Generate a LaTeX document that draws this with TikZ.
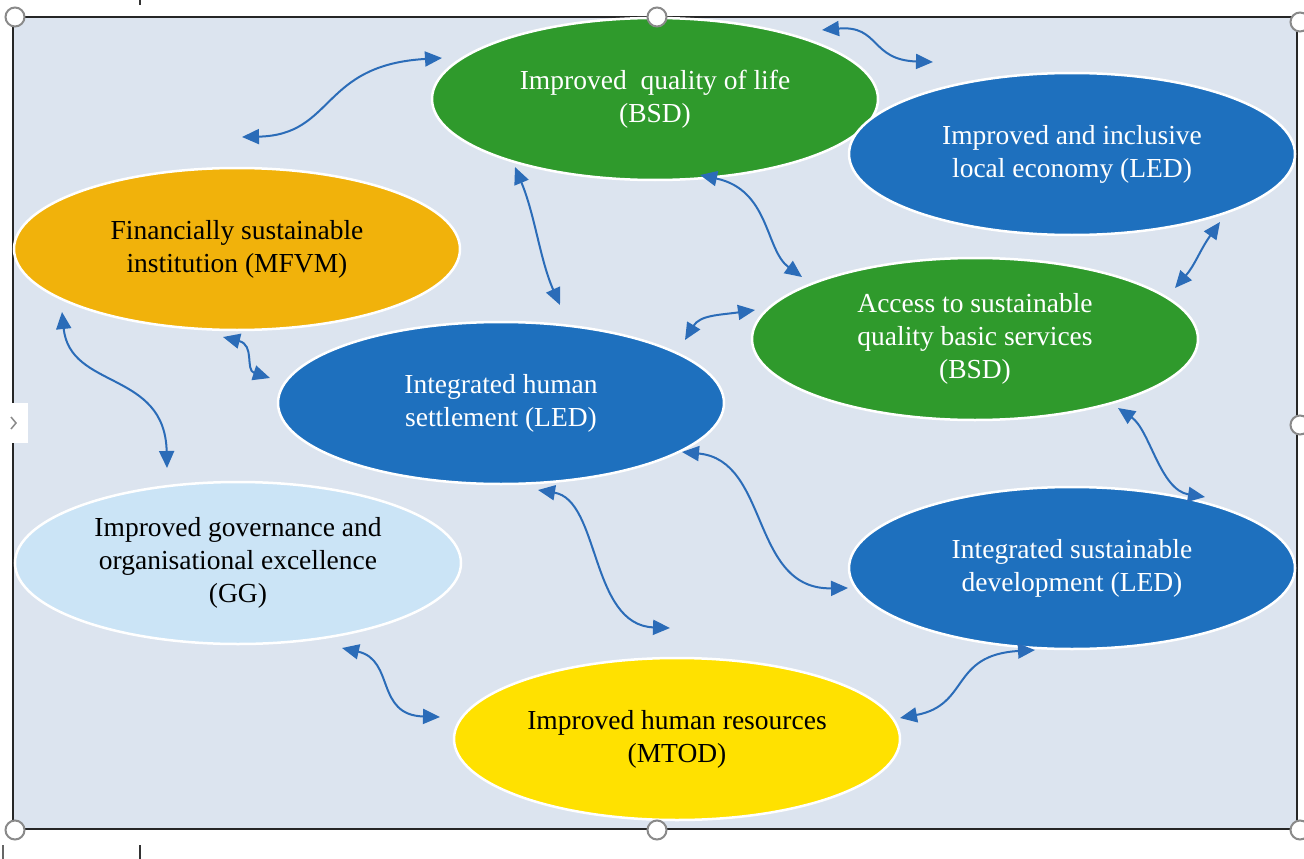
\documentclass[tikz,border=0pt]{standalone}
\usepackage{fontspec}
\setmainfont{Liberation Serif}
\usetikzlibrary{arrows.meta,shapes.geometric}
\definecolor{bgc}{HTML}{DCE4EF}
\definecolor{grn}{HTML}{2F9A2C}
\definecolor{blu}{HTML}{1E70BE}
\definecolor{org}{HTML}{F1B20B}
\definecolor{ylw}{HTML}{FFE100}
\definecolor{lbl}{HTML}{CBE4F6}
\definecolor{arr}{HTML}{2B6CB8}
\definecolor{hdl}{HTML}{8A8A8A}
\begin{document}
\begin{tikzpicture}[x=1pt,y=-1pt,
 goal/.style={ellipse, draw=white, line width=2.5pt, minimum width=446pt, minimum height=162pt, inner sep=0pt, align=center, font=\fontsize{27.5}{33}\selectfont},
 link/.style={draw=arr, line width=2pt, {Triangle[length=17pt,width=15pt]}-{Triangle[length=17pt,width=15pt]}},
 handle/.style={circle, draw=hdl, fill=white, line width=2pt, minimum size=19pt, inner sep=0pt}]
\useasboundingbox (0,0) rectangle (1304,859);
\fill[white] (0,0) rectangle (1304,859);
\fill[bgc] (13,17) rectangle (1297,829);
\draw[line width=2pt, black!85] (13,17) rectangle (1297,829);
% small marks outside the frame
\draw[line width=1.5pt, black!80] (140,0) -- (140,5);
\draw[line width=1.5pt, black!80] (140,845) -- (140,859);
\draw[line width=1.2pt, black!60] (3,845) -- (3,859);
% ellipses
\node[goal, fill=grn, text=white] (qol) at (655,99) {Improved\ \ quality of life\\(BSD)};
\node[goal, fill=blu, text=white] (econ) at (1072,154) {Improved and inclusive\\local economy (LED)};
\node[goal, fill=org] (fin) at (237,249) {Financially sustainable\\institution (MFVM)};
\node[goal, fill=grn, text=white] (acc) at (975,339) {Access to sustainable\\quality basic services\\(BSD)};
\node[goal, fill=blu, text=white] (hum) at (501,403) {Integrated human\\settlement (LED)};
\node[goal, fill=lbl] (gov) at (238,563) {Improved governance and\\organisational excellence\\(GG)};
\node[goal, fill=blu, text=white] (dev) at (1072,568) {Integrated sustainable\\development (LED)};
\node[goal, fill=ylw] (hr) at (677,739) {Improved human resources\\(MTOD)};
% connector ends
\coordinate (a1a) at (242,137); \coordinate (a1b) at (442,58);
\coordinate (a2a) at (822,30);  \coordinate (a2b) at (933,62);
\coordinate (a3a) at (515,167); \coordinate (a3b) at (560,305);
\coordinate (a4a) at (700,175); \coordinate (a4b) at (802,277);
\coordinate (a5a) at (1220,222); \coordinate (a5b) at (1175,288);
\coordinate (a6a) at (62,312);  \coordinate (a6b) at (167,468);
\coordinate (a7a) at (223,337); \coordinate (a7b) at (270,378);
\coordinate (a8a) at (685,340); \coordinate (a8b) at (755,310);
\coordinate (a9a) at (682,452); \coordinate (a9b) at (848,588);
\coordinate (a10a) at (538,490); \coordinate (a10b) at (670,628);
\coordinate (a11a) at (342,648); \coordinate (a11b) at (440,717);
\coordinate (a12a) at (900,718); \coordinate (a12b) at (1035,650);
\coordinate (a13a) at (1118,408); \coordinate (a13b) at (1205,497);
% connectors
\draw[link] (a1a) .. controls (335,135) and (320,65) .. (a1b);
\draw[link] (a2a) .. controls (880,25) and (870,60) .. (a2b);
\draw[link] (a3a) .. controls (535,215) and (540,260) .. (a3b);
\draw[link] (a4a) .. controls (770,190) and (765,250) .. (a4b);
\draw[link] (a5a) .. controls (1200,250) and (1195,265) .. (a5b);
\draw[link] (a6a) .. controls (70,390) and (165,370) .. (a6b);
\draw[link] (a7a) .. controls (255,345) and (245,370) .. (a7b);
\draw[link] (a8a) .. controls (700,315) and (720,315) .. (a8b);
\draw[link] (a9a) .. controls (770,460) and (750,590) .. (a9b);
\draw[link] (a10a) .. controls (600,500) and (590,625) .. (a10b);
\draw[link] (a11a) .. controls (395,660) and (375,715) .. (a11b);
\draw[link] (a12a) .. controls (970,705) and (950,655) .. (a12b);
\draw[link] (a13a) .. controls (1150,430) and (1160,490) .. (a13b);
% selection handles
\node[handle] (h1) at (15,17) {};
\node[handle] (h2) at (657,17) {};
\node[handle] (h3) at (1300,22) {};
\node[handle] (h4) at (1300,425) {};
\node[handle] (h5) at (15,830) {};
\node[handle] (h6) at (657,830) {};
\node[handle] (h7) at (1300,830) {};
\node[fill=white, minimum width=28pt, minimum height=40pt, inner sep=0pt] (side) at (14,423) {};
\draw[hdl, line width=1.5pt] ([xshift=-3pt,yshift=-6pt]side.center) -- ([xshift=2pt]side.center) -- ([xshift=-3pt,yshift=6pt]side.center);
\end{tikzpicture}
\end{document}
